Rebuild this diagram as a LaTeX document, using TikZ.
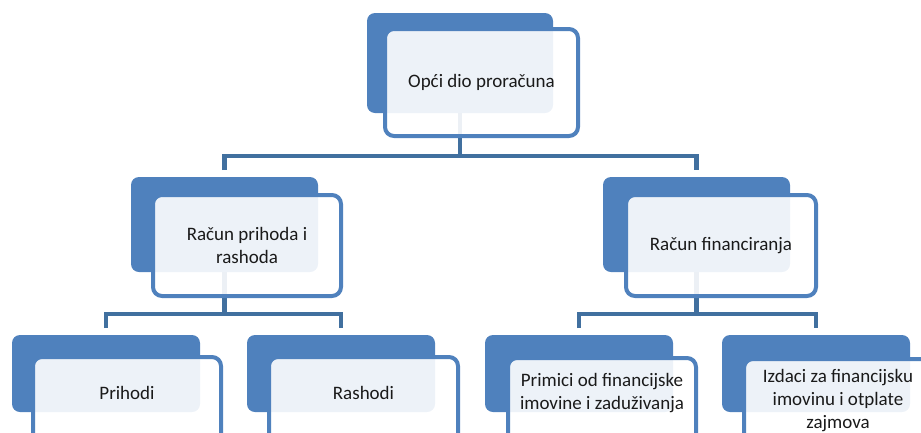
\documentclass[tikz,border=0pt]{standalone}
\usepackage{fontspec}
\setmainfont{Carlito}
\definecolor{accent}{HTML}{4F81BD}
\definecolor{connc}{HTML}{41709F}
\definecolor{txtc}{HTML}{1A1A1A}
\begin{document}
\begin{tikzpicture}[x=1pt,y=-1pt,
  backbox/.style={anchor=north west,inner sep=0pt,outer sep=0pt,fill=accent,rounded corners=8pt,minimum width=#1},
  frontbox/.style={anchor=north west,inner sep=0pt,outer sep=0pt,fill=white,fill opacity=0.9,draw=accent,line width=4pt,rounded corners=9pt,minimum width=#1},
  conn/.style={draw=connc,line width=4.5pt},
  txt/.style={text=txtc,font=\fontsize{19}{23}\selectfont,align=center,inner sep=0pt}]
\useasboundingbox (0,0) rectangle (921,432);
\clip (0,0) rectangle (921,432);
% junctions
\coordinate (j1) at (460,156);
\coordinate (j2) at (224.5,314);
\coordinate (j3) at (696.5,314);
% back boxes
\node[backbox=186pt,minimum height=100pt] (b1) at (367,13) {};
\node[backbox=187pt,minimum height=95pt] (b21) at (131,177) {};
\node[backbox=187pt,minimum height=95pt] (b22) at (603,177) {};
\node[backbox=188pt,minimum height=77pt] (b31) at (12,335) {};
\node[backbox=188pt,minimum height=77pt] (b32) at (247,335) {};
\node[backbox=188pt,minimum height=77pt] (b33) at (485,335) {};
\node[backbox=188pt,minimum height=77pt] (b34) at (722,335) {};
% connectors
\draw[conn] (b1.south) -- (j1);
\draw[conn] ([yshift=7pt]b21.north) |- (j1) -| ([yshift=7pt]b22.north);
\draw[conn] (b21.south) -- (j2);
\draw[conn] ([yshift=7pt]b31.north) |- (j2) -| ([yshift=7pt]b32.north);
\draw[conn] (b22.south) -- (j3);
\draw[conn] ([yshift=7pt]b33.north) |- (j3) -| ([yshift=7pt]b34.north);
% front boxes
\node[frontbox=193pt,minimum height=107pt] (f1) at (385,29) {};
\node[frontbox=188pt,minimum height=101pt] (f21) at (153,195) {};
\node[frontbox=190pt,minimum height=101pt] (f22) at (626,195) {};
\node[frontbox=188pt,minimum height=100pt] (f31) at (33,357) {};
\node[frontbox=189pt,minimum height=100pt] (f32) at (269,357) {};
\node[frontbox=188pt,minimum height=100pt] (f33) at (508,358) {};
\node[frontbox=188pt,minimum height=100pt] (f34) at (744,359) {};
% texts
\node[txt] (t1) at (f1.center) {Opći dio proračuna};
\node[txt] (t21) at (f21.center) {Račun prihoda i\\rashoda};
\node[txt] (t22) at (f22.center) {Račun financiranja};
\node[txt] (t31) at ([yshift=14pt]f31.center) {Prihodi};
\node[txt] (t32) at ([yshift=14pt]f32.center) {Rashodi};
\node[txt] (t33) at ([yshift=15pt]f33.center) {Primici od financijske\\imovine i zaduživanja};
\node[txt] (t34) at ([yshift=8pt]f34.center) {Izdaci za financijsku\\imovinu i otplate\\zajmova};
\end{tikzpicture}
\end{document}
